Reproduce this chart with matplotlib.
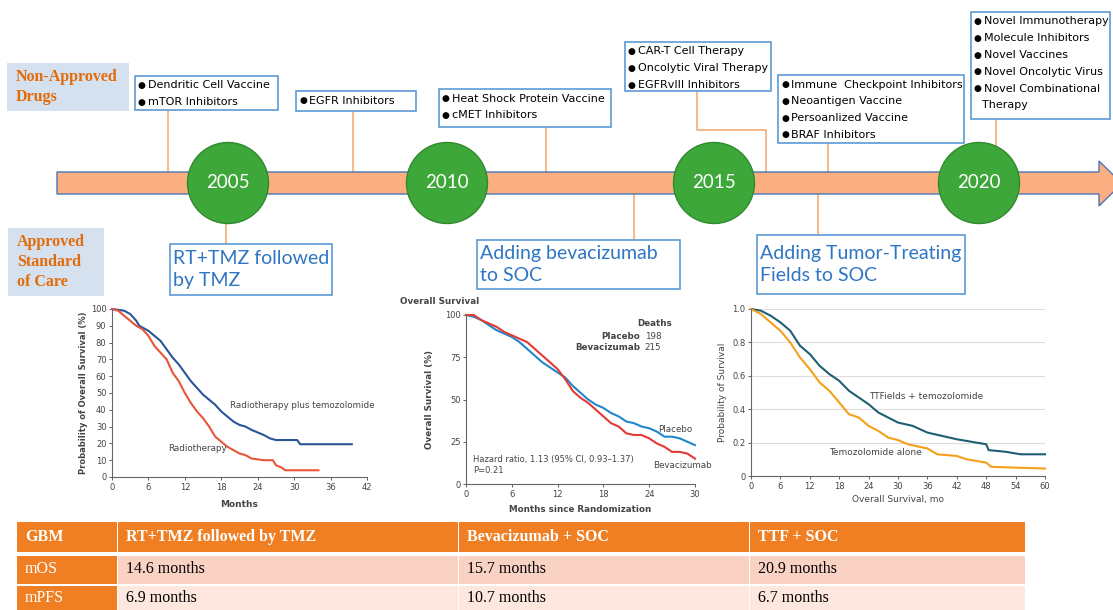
import numpy as np
import matplotlib.pyplot as plt
from matplotlib.patches import Rectangle, Ellipse, Polygon

W, H = 1113, 610

# ---- timeline content ----
years = ['2005', '2010', '2015', '2020']
year_x = [228, 447, 714, 979]

non_approved = [
    ['Dendritic Cell Vaccine', 'mTOR Inhibitors'],
    ['EGFR Inhibitors'],
    ['Heat Shock Protein Vaccine', 'cMET Inhibitors'],
    ['CAR-T Cell Therapy', 'Oncolytic Viral Therapy', 'EGFRvIII Inhibitors'],
    ['Immune  Checkpoint Inhibitors', 'Neoantigen Vaccine', 'Persoanlized Vaccine', 'BRAF Inhibitors'],
    ['Novel Immunotherapy', 'Molecule Inhibitors', 'Novel Vaccines', 'Novel Oncolytic Virus',
     'Novel Combinational\nTherapy'],
]
approved = ['RT+TMZ followed\nby TMZ', 'Adding bevacizumab\nto SOC', 'Adding Tumor-Treating\nFields to SOC']

# ---- survival curves ----
rt_tmz_t = [0, 1, 2, 3, 4, 4.5, 6, 7, 8, 9, 10, 11, 12, 13, 14, 15, 16, 17, 18, 19, 20, 21, 22,
            23, 24, 25, 26, 27, 30.5, 31, 39.5]
rt_tmz_s = [100, 99.5, 99, 97, 93, 90, 87, 84, 81, 76, 71, 67, 62, 57, 53, 49, 46, 43, 39, 36, 33,
            31, 30, 28, 26.5, 25, 23, 22, 22, 19.5, 19.5]
rt_t = [0, 1, 2, 3, 4, 5, 6, 7, 8, 9, 10, 11, 12, 13, 14, 15, 16, 17, 18, 19, 20, 21, 22, 23, 24,
        25, 26.5, 27, 28, 28.5, 34]
rt_s = [100, 99, 96, 93, 90, 88, 84, 78, 74, 70, 62, 57, 50, 44, 39, 35, 30, 24, 21, 18, 16, 14,
        13, 11, 10.5, 10, 10, 7, 5.5, 4, 4]

months_bev = list(range(0, 31))
placebo_s = [100, 99, 97, 94, 91, 89, 87, 84, 80, 76, 72, 69, 66, 63, 58, 54, 50, 47, 45, 42, 40,
             37, 36, 34, 33, 31, 28, 28, 27, 25, 23]
bev_s = [100, 100, 97, 95, 93, 90, 88, 86, 84, 80, 76, 72, 68, 62, 55, 51, 48, 44, 40, 36, 34,
         30, 29, 29, 27, 24, 22, 19, 19, 18, 15]

ttf_t = [0, 2, 4, 6, 8, 10, 12, 14, 16, 18, 20, 22, 24, 26, 28, 30, 33, 36, 39, 42, 44, 48, 48.5,
         52, 54, 55, 60]
ttf_s = [1.0, 0.99, 0.96, 0.92, 0.87, 0.78, 0.73, 0.66, 0.61, 0.57, 0.51, 0.47, 0.43, 0.38, 0.35,
         0.32, 0.30, 0.26, 0.24, 0.22, 0.21, 0.19, 0.155, 0.145, 0.135, 0.13, 0.13]
tmz_t = [0, 2, 4, 6, 8, 10, 12, 14, 16, 18, 20, 22, 24, 26, 28, 30, 32, 36, 38, 42, 44, 48, 49,
         54, 60]
tmz_s = [1.0, 0.97, 0.92, 0.87, 0.80, 0.71, 0.64, 0.56, 0.51, 0.44, 0.37, 0.35, 0.30, 0.27, 0.23,
         0.215, 0.19, 0.165, 0.13, 0.12, 0.10, 0.08, 0.055, 0.05, 0.045]

# ---- table ----
table_header = ['GBM', 'RT+TMZ followed by TMZ', 'Bevacizumab + SOC', 'TTF + SOC']
table_rows = [['mOS', '14.6 months', '15.7 months', '20.9 months'],
              ['mPFS', '6.9 months', '10.7 months', '6.7 months']]

ORANGE = '#F07E22'
BOXBLUE = '#5B9BD5'
LINK = '#F4A46A'

fig = plt.figure(figsize=(W / 100, H / 100), dpi=100)
bg = fig.add_axes([0, 0, 1, 1])
bg.set_xlim(0, W)
bg.set_ylim(H, 0)
bg.axis('off')


def px_axes(x0, y0, x1, y1):
    return fig.add_axes([x0 / W, 1 - y1 / H, (x1 - x0) / W, (y1 - y0) / H])


# left labels
bg.add_patch(Rectangle((7, 63), 122, 48, fc='#D6E1F0', ec='none'))
bg.text(16, 87, 'Non-Approved\nDrugs', color='#E26B0A', family='Liberation Serif', weight='bold',
        fontsize=11.5, va='center', linespacing=1.3)
bg.add_patch(Rectangle((8, 228), 96, 68, fc='#D6E1F0', ec='none'))
bg.text(17, 262, 'Approved\nStandard\nof Care', color='#E26B0A', family='Liberation Serif',
        weight='bold', fontsize=11.5, va='center', linespacing=1.3)

# connectors
links = [
    [(168, 110), (168, 172)],
    [(353, 111), (353, 172)],
    [(546, 127), (546, 172)],
    [(697, 91), (697, 130), (766, 130), (766, 172)],
    [(828, 143), (828, 172)],
    [(996, 119), (996, 150)],
    [(226, 215), (226, 244)],
    [(634, 194), (634, 240)],
    [(818, 194), (818, 235)],
]
for pts in links:
    xs, ys = zip(*pts)
    bg.plot(xs, ys, color=LINK, lw=1.1, zorder=1)

# arrow
bg.add_patch(Polygon([(57, 172), (1099, 172), (1099, 161), (1122, 183.5), (1099, 206),
                      (1099, 194), (57, 194)], closed=True, fc='#FBAF80', ec='#4A76B8',
                     lw=1, zorder=2))
for yr, xc in zip(years, year_x):
    bg.add_patch(Ellipse((xc, 183), 81, 81, fc='#3DA73A', ec='#2F8A2D', lw=1, zorder=3))
    bg.text(xc, 183, yr, color='white', family='Lato', fontsize=13.5, ha='center', va='center',
            zorder=4)

# top boxes
top_boxes = [(135, 76, 278, 110), (296, 91, 416, 111), (439, 89, 611, 127),
             (625, 42, 771, 91), (778, 75, 964, 143), (971, 12, 1110, 119)]
for items, (x0, y0, x1, y1) in zip(non_approved, top_boxes):
    bg.add_patch(Rectangle((x0, y0), x1 - x0, y1 - y0, fc='white', ec=BOXBLUE, lw=1.2, zorder=2))
    y = y0 + 9.5
    for it in items:
        parts = it.split('\n')
        bg.text(x0 + 3, y, '●', fontsize=6.5, va='center', zorder=3)
        for k, p in enumerate(parts):
            bg.text(x0 + 13 - (2 if k else 0), y, p, fontsize=8, va='center', zorder=3,
                    family='DejaVu Sans')
            y += 16.8

# bottom boxes
bottom_boxes = [(170, 244, 332, 295), (477, 240, 680, 289), (757, 235, 965, 294)]
for txt, (x0, y0, x1, y1) in zip(approved, bottom_boxes):
    bg.add_patch(Rectangle((x0, y0), x1 - x0, y1 - y0, fc='white', ec=BOXBLUE, lw=1.2, zorder=2))
    bg.text(x0 + 3, (y0 + y1) / 2, txt, color='#2E75C4', family='Lato', fontsize=14,
            va='center', linespacing=1.4, zorder=3)

GRAY = '#444444'


def km_style(ax):
    for s in ['top', 'right']:
        ax.spines[s].set_visible(False)
    for s in ['left', 'bottom']:
        ax.spines[s].set_color('#666666')
        ax.spines[s].set_linewidth(0.8)
    ax.tick_params(labelsize=6, colors=GRAY, length=2.5, width=0.6, pad=1.5)
    ax.patch.set_alpha(0)


# plot 1: RT + TMZ
ax1 = px_axes(112, 309, 367, 477)
ax1.plot(rt_tmz_t, rt_tmz_s, color='#2B5597', lw=1.5, clip_on=False)
ax1.plot(rt_t, rt_s, color='#E8553A', lw=1.5, clip_on=False)
ax1.set_xlim(0, 42)
ax1.set_ylim(0, 100)
ax1.set_xticks(range(0, 43, 6))
ax1.set_yticks(range(0, 101, 10))
km_style(ax1)
ax1.set_ylabel('Probability of Overall Survival (%)', fontsize=6, color=GRAY, weight='bold',
               labelpad=2)
ax1.set_xlabel('Months', fontsize=6.5, color=GRAY, weight='bold', labelpad=6)
ax1.text(19.5, 41, 'Radiotherapy plus temozolomide', fontsize=6.3, color=GRAY)
ax1.text(9.3, 15.5, 'Radiotherapy', fontsize=6.3, color=GRAY)

# plot 2: bevacizumab
ax2 = px_axes(466, 315, 695, 484)
ax2.plot(months_bev, placebo_s, color='#1E88C9', lw=1.5, clip_on=False)
ax2.plot(months_bev, bev_s, color='#E53935', lw=1.5, clip_on=False)
ax2.set_xlim(0, 30)
ax2.set_ylim(0, 100)
ax2.set_xticks(range(0, 31, 6))
ax2.set_yticks([0, 25, 50, 75, 100])
km_style(ax2)
ax2.set_ylabel('Overall Survival (%)', fontsize=6.3, color=GRAY, weight='bold', labelpad=8)
ax2.set_xlabel('Months since Randomization', fontsize=6.3, color=GRAY, weight='bold',
               labelpad=5)
bg.text(400, 301, 'Overall Survival', fontsize=6.3, color=GRAY, weight='bold', va='center')
ax2.text(27, 95, 'Deaths', fontsize=6.3, color=GRAY, weight='bold', ha='right', va='center')
ax2.text(22.8, 87, 'Placebo', fontsize=6.3, color=GRAY, weight='bold', ha='right', va='center')
ax2.text(22.8, 81, 'Bevacizumab', fontsize=6.3, color=GRAY, weight='bold', ha='right',
         va='center')
ax2.text(23.4, 87, '198', fontsize=6.3, color=GRAY, va='center')
ax2.text(23.4, 81, '215', fontsize=6.3, color=GRAY, va='center')
ax2.text(0.9, 11.5, 'Hazard ratio, 1.13 (95% CI, 0.93\u20131.37)\nP=0.21', fontsize=6,
         color=GRAY, va='center', linespacing=1.3)
ax2.text(25.2, 32, 'Placebo', fontsize=6.3, color=GRAY, va='center')
ax2.text(24.5, 11, 'Bevacizumab', fontsize=6.3, color=GRAY, va='center')

# plot 3: TTFields
ax3 = px_axes(751, 309, 1045, 476)
for g in [0.2, 0.4, 0.6, 0.8, 1.0]:
    ax3.axhline(g, color='#DDDDDD', lw=0.8, zorder=0)
ax3.plot(ttf_t, ttf_s, color='#1E5F74', lw=1.5, clip_on=False)
ax3.plot(tmz_t, tmz_s, color='#F5A01A', lw=1.5, clip_on=False)
ax3.set_xlim(0, 60)
ax3.set_ylim(0, 1.0)
ax3.set_xticks(range(0, 61, 6))
ax3.set_yticks([0, 0.2, 0.4, 0.6, 0.8, 1.0])
ax3.set_yticklabels(['0', '0.2', '0.4', '0.6', '0.8', '1.0'])
km_style(ax3)
ax3.set_ylabel('Probability of Survival', fontsize=6.5, color=GRAY, labelpad=4)
ax3.set_xlabel('Overall Survival, mo', fontsize=6.5, color=GRAY, labelpad=3)
ax3.text(24, 0.475, 'TTFields + temozolomide', fontsize=6.5, color=GRAY, va='center')
ax3.text(16, 0.14, 'Temozolomide alone', fontsize=6.5, color=GRAY, va='center')

# table
col_x = [17, 118, 459, 750, 1026]
row_y = [(522, 552), (556, 584), (586, 612)]
row_fill = ['#FAD2C4', '#FDE7DF']
for ci in range(4):
    x0, x1 = col_x[ci], col_x[ci + 1]
    y0, y1 = row_y[0]
    bg.add_patch(Rectangle((x0, y0), x1 - x0 - 1, y1 - y0, fc=ORANGE, ec='none'))
    bg.text(x0 + 8, (y0 + y1) / 2, table_header[ci], color='white', family='Liberation Serif',
            weight='bold', fontsize=11.5, va='center')
for ri, row in enumerate(table_rows):
    y0, y1 = row_y[ri + 1]
    for ci in range(4):
        x0, x1 = col_x[ci], col_x[ci + 1]
        fc = ORANGE if ci == 0 else row_fill[ri]
        bg.add_patch(Rectangle((x0, y0), x1 - x0 - 1, y1 - y0, fc=fc, ec='none'))
        bg.text(x0 + 8, (y0 + y1) / 2 - 1, row[ci], color='white' if ci == 0 else 'black',
                family='Liberation Serif', fontsize=11.5, va='center')

fig.savefig('out.png', dpi=100)
